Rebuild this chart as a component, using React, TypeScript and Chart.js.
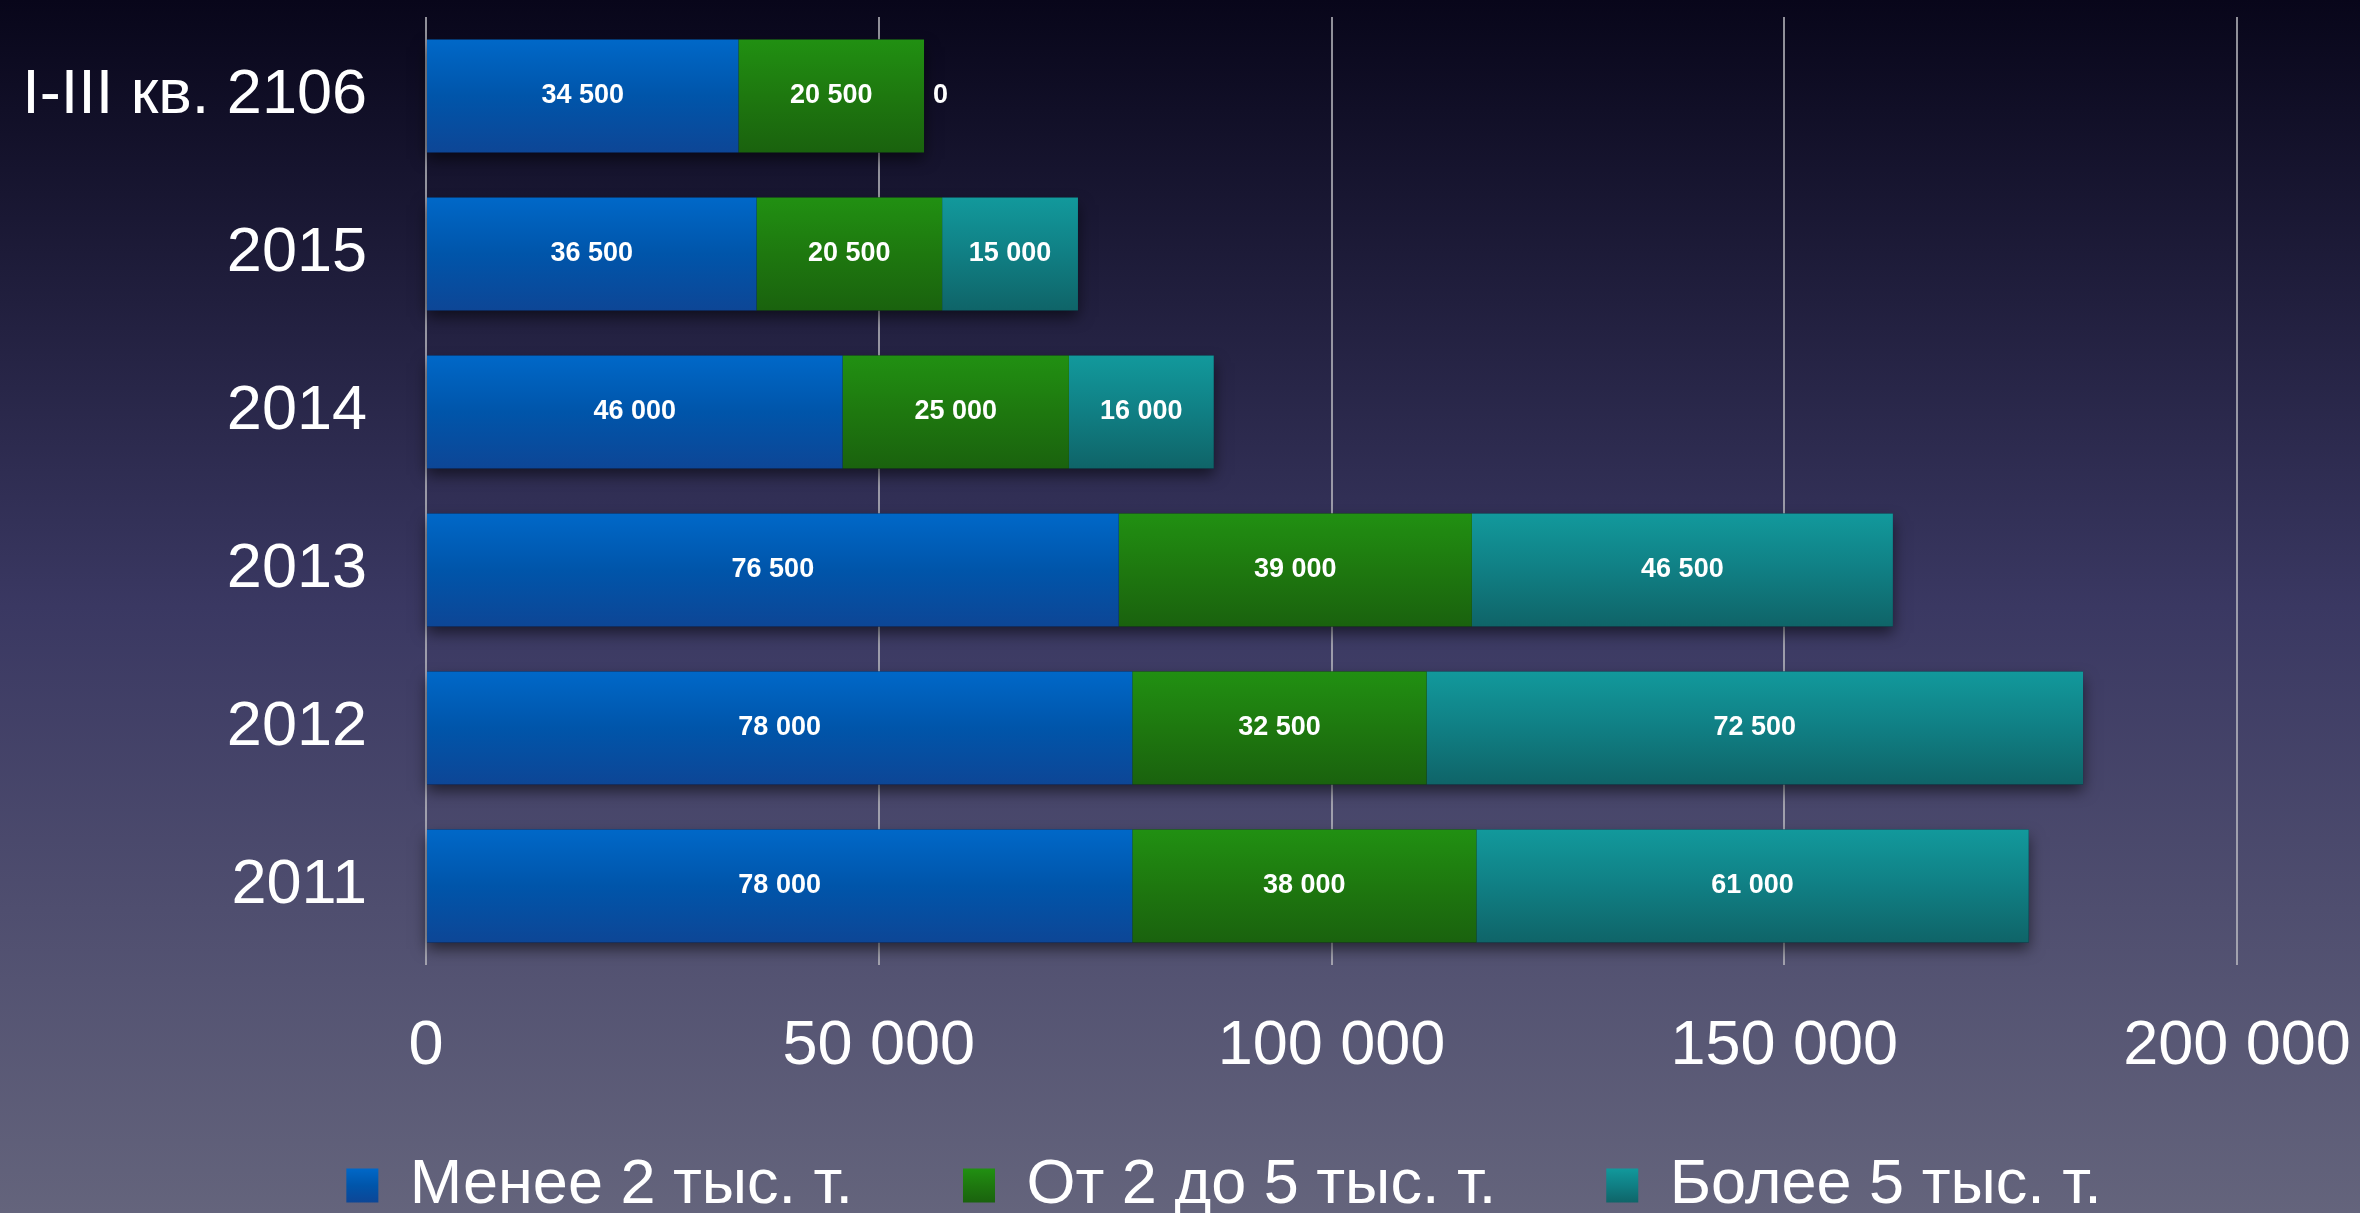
import React, { useEffect, useRef } from 'react';
import { Chart, registerables } from 'chart.js';

Chart.register(...registerables);

const categories = ['I-III кв. 2106', '2015', '2014', '2013', '2012', '2011'];
const seriesNames = ['Менее 2 тыс. т.', 'От 2 до 5 тыс. т.', 'Более 5 тыс. т.'];
const smallValues = [34500, 36500, 46000, 76500, 78000, 78000];
const midValues = [20500, 20500, 25000, 39000, 32500, 38000];
const largeValues = [0, 15000, 16000, 46500, 72500, 61000];
const xMin = 0;
const xMax = 200000;
const xStep = 50000;

const FONT = '"Liberation Sans", Arial, Helvetica, sans-serif';
const BAR_PCT = 0.715;
const LEGEND_FONT = 63;
const LEGEND_BOX_H = 34;

const blueStops = ['#0068c8', '#0055aa', '#0d4696'];
const greenStops = ['#219012', '#1e780f', '#1a620e'];
const tealStops = ['#12999c', '#107f84', '#0f6468'];
const allStops = [blueStops, greenStops, tealStops];

const fmt = (v: number) => String(v).replace(/\B(?=(\d{3})+(?!\d))/g, ' ');

function barGradient(stops: string[]) {
  return (ctx: any) => {
    const chart = ctx.chart;
    const yScale = chart.scales && chart.scales.y;
    if (ctx.type !== 'data' || !yScale || !chart.chartArea) return stops[1];
    const center = yScale.getPixelForValue(ctx.dataIndex);
    const half = ((yScale.bottom - yScale.top) / categories.length) * BAR_PCT / 2;
    if (!isFinite(center) || !isFinite(half)) return stops[1];
    const g = chart.ctx.createLinearGradient(0, center - half, 0, center + half);
    g.addColorStop(0, stops[0]);
    g.addColorStop(0.5, stops[1]);
    g.addColorStop(1, stops[2]);
    return g;
  };
}

// let axis labels draw outside their (narrow) layout boxes without being clipped
const unclipPlugin = {
  id: 'unclipLabels',
  afterLayout(chart: any) {
    const y = chart.scales.y;
    const x = chart.scales.x;
    if (y) y.left = 0;
    if (x) x.bottom = chart.height;
  },
  beforeDraw(chart: any) {
    const lg = chart.legend;
    if (!lg || !lg.legendItems) return;
    const pad = lg.options.labels.padding;
    const y0 = lg.top + pad + (LEGEND_FONT - LEGEND_BOX_H) / 2;
    const y1 = y0 + LEGEND_BOX_H;
    lg.legendItems.forEach((it: any, i: number) => {
      const s = allStops[i];
      if (!s) return;
      const g = chart.ctx.createLinearGradient(0, y0, 0, y1);
      g.addColorStop(0, s[0]);
      g.addColorStop(0.5, s[1]);
      g.addColorStop(1, s[2]);
      it.fillStyle = g;
    });
  },
};

const shadowPlugin = {
  id: 'stackShadow',
  beforeDatasetsDraw(chart: any) {
    const c = chart.ctx;
    const metas = chart.data.datasets.map((_: any, i: number) => chart.getDatasetMeta(i));
    c.save();
    c.shadowColor = 'rgba(0,0,0,0.55)';
    c.shadowBlur = 14;
    c.shadowOffsetY = 7;
    c.fillStyle = 'rgba(10,10,30,1)';
    categories.forEach((_, i) => {
      let left = Infinity, right = -Infinity, top = 0, bottom = 0;
      metas.forEach((m: any) => {
        const el = m.data[i];
        if (!el) return;
        const p = el.getProps(['x', 'y', 'base', 'height'], true);
        left = Math.min(left, p.base, p.x);
        right = Math.max(right, p.base, p.x);
        top = p.y - p.height / 2;
        bottom = p.y + p.height / 2;
      });
      if (isFinite(left)) c.fillRect(left, top, right - left, bottom - top);
    });
    c.restore();
  },
};

const labelPlugin = {
  id: 'valueLabels',
  afterDatasetsDraw(chart: any) {
    const c = chart.ctx;
    c.save();
    c.font = `bold 27px ${FONT}`;
    c.fillStyle = '#ffffff';
    c.textBaseline = 'middle';
    chart.data.datasets.forEach((ds: any, di: number) => {
      const meta = chart.getDatasetMeta(di);
      meta.data.forEach((el: any, i: number) => {
        const v = ds.data[i];
        const p = el.getProps(['x', 'y', 'base'], true);
        if (v === 0) {
          c.textAlign = 'left';
          c.fillText(fmt(v), p.x + 9, p.y);
        } else {
          c.textAlign = 'center';
          c.fillText(fmt(v), (p.x + p.base) / 2, p.y);
        }
      });
    });
    c.restore();
  },
};

export default function App() {
  const canvasRef = useRef<HTMLCanvasElement | null>(null);

  useEffect(() => {
    document.body.style.margin = '0';
    const canvas = canvasRef.current;
    if (!canvas) return;
    const LEFT_PAD = 211;
    const chart = new Chart(canvas, {
      type: 'bar',
      data: {
        labels: categories,
        datasets: [
          { label: seriesNames[0], data: smallValues, backgroundColor: barGradient(blueStops) as any, borderWidth: 0 },
          { label: seriesNames[1], data: midValues, backgroundColor: barGradient(greenStops) as any, borderWidth: 0 },
          { label: seriesNames[2], data: largeValues, backgroundColor: barGradient(tealStops) as any, borderWidth: 0 },
        ],
      },
      options: {
        indexAxis: 'y',
        responsive: false,
        maintainAspectRatio: false,
        animation: false,
        events: [],
        datasets: { bar: { categoryPercentage: 1, barPercentage: BAR_PCT } },
        layout: { padding: { top: 17, right: 123, left: LEFT_PAD, bottom: -14 } },
        scales: {
          x: {
            stacked: true,
            min: xMin,
            max: xMax,
            ticks: {
              stepSize: xStep,
              color: '#ffffff',
              font: { family: FONT, size: 63 },
              padding: 44,
              maxRotation: 0,
              callback: (v: any) => fmt(Number(v)),
            },
            grid: { color: 'rgba(190,190,195,0.75)', lineWidth: 2, drawTicks: false },
            border: { display: false },
            afterFit: (s: any) => {
              s.height = 79;
              s.paddingLeft = 0;
              s.paddingRight = 0;
            },
          },
          y: {
            stacked: true,
            ticks: { color: '#ffffff', font: { family: FONT, size: 63 }, padding: 59 },
            grid: { display: false, drawTicks: false },
            border: { display: false },
            afterFit: (s: any) => {
              s.width = 426 - LEFT_PAD;
              s.paddingTop = 0;
              s.paddingBottom = 0;
            },
          },
        },
        plugins: {
          legend: {
            position: 'bottom',
            labels: {
              color: '#ffffff',
              font: { family: FONT, size: LEGEND_FONT },
              boxWidth: 32,
              boxHeight: LEGEND_BOX_H,
              padding: 110,
            },
          },
          tooltip: { enabled: false },
        },
      },
      plugins: [unclipPlugin, shadowPlugin, labelPlugin],
    });
    return () => chart.destroy();
  }, []);

  return (
    <div
      style={{
        width: 2360,
        height: 1213,
        background: 'linear-gradient(to bottom, #08061a 0%, #3a3862 50%, #64647c 100%)',
      }}
    >
      <canvas ref={canvasRef} width={2360} height={1213} style={{ display: 'block' }} />
    </div>
  );
}
